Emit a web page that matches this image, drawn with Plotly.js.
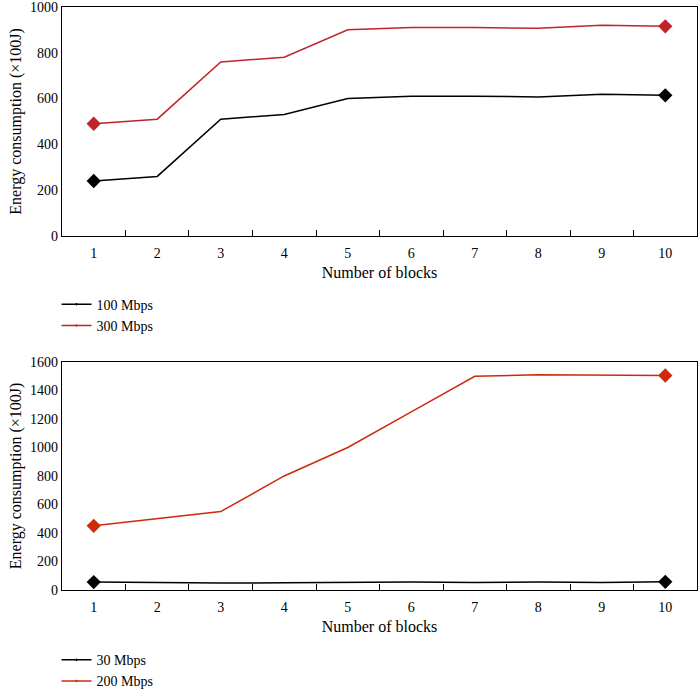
<!DOCTYPE html>
<html>
<head>
<meta charset="utf-8">
<script src="https://cdn.plot.ly/plotly-3.0.1.min.js"></script>
<style>html,body{margin:0;padding:0;background:#fff;}#chart{width:698px;height:690px;}</style>
</head>
<body>
<div id="chart"></div>
<script>
const blocks = [1, 2, 3, 4, 5, 6, 7, 8, 9, 10];
const top100 = [240, 260, 510, 530, 600, 610, 610, 607, 619, 614];
const top300 = [490, 510, 760, 780, 900, 910, 910, 907, 920, 915];
const bot30 = [55, 50, 48, 50, 55, 55, 52, 55, 52, 57];
const bot200 = [450, 500, 550, 800, 1000, 1250, 1500, 1510, 1505, 1505];
const names = ['100 Mbps', '300 Mbps', '30 Mbps', '200 Mbps'];
const xTitle = 'Number of blocks';
const yTitle = 'Energy consumption (×100J)';

const endSizes = blocks.map((b, i) => (i === 0 || i === blocks.length - 1) ? 11 : 0);
function tr(y, name, color, xa, ya, legend) {
  return {
    x: blocks, y: y, name: name, type: 'scatter', mode: 'lines+markers',
    xaxis: xa, yaxis: ya, legend: legend,
    line: {color: color, width: 1.5},
    marker: {symbol: 'diamond', size: endSizes, color: color, opacity: 1, line: {width: 0}}
  };
}
const data = [
  tr(top100, names[0], '#000000', 'x', 'y', 'legend'),
  tr(top300, names[1], '#c0232a', 'x', 'y', 'legend'),
  tr(bot30, names[2], '#000000', 'x2', 'y2', 'legend2'),
  tr(bot200, names[3], '#cf2a0c', 'x2', 'y2', 'legend2')
];
const font = {family: '"Liberation Serif", "DejaVu Serif", serif', size: 14, color: '#000'};
function xax(anchor) {
  return {
    domain: [0.0888, 0.9986], anchor: anchor, range: [0.5, 10.5],
    tickvals: blocks, ticks: '', showgrid: false, zeroline: false,
    showline: true, mirror: true, linecolor: '#000', linewidth: 1.2,
    tickfont: {size: 14}, ticklabelstandoff: 4,
    minor: {tickmode: 'array', tickvals: [1.5,2.5,3.5,4.5,5.5,6.5,7.5,8.5,9.5], ticks: 'inside', ticklen: 6, tickcolor: '#000', tickwidth: 1, showgrid: false},
    title: {text: xTitle, font: {size: 16}, standoff: 6}
  };
}
function yax(anchor, domain, range, dtick) {
  return {
    domain: domain, anchor: anchor, range: range, dtick: dtick,
    ticks: '', showgrid: false, zeroline: false,
    showline: true, mirror: true, linecolor: '#000', linewidth: 1.2,
    tickfont: {size: 14}, ticklabeloverflow: 'allow',
    title: {text: yTitle, font: {size: 16}, standoff: 4}
  };
}
const legendBase = {
  x: 0.081, xanchor: 'left', yanchor: 'top', bgcolor: 'rgba(0,0,0,0)',
  font: {size: 14}, tracegroupgap: 0, itemwidth: 30, yref: 'container'
};
const layout = {
  width: 698, height: 690,
  margin: {l: 0, r: 0, t: 0, b: 0, autoexpand: false},
  paper_bgcolor: '#fff', plot_bgcolor: '#fff',
  font: font, showlegend: true,
  xaxis: xax('y'),
  yaxis: yax('x', [0.658, 0.99], [0, 1000.01], 200),
  xaxis2: xax('y2'),
  yaxis2: yax('x2', [0.145, 0.4754], [0, 1600], 200),
  legend: Object.assign({}, legendBase, {y: 0.5817}),
  legend2: Object.assign({}, legendBase, {y: 0.0665})
};
Plotly.newPlot('chart', data, layout, {displayModeBar: false, staticPlot: true});
</script>
</body>
</html>
